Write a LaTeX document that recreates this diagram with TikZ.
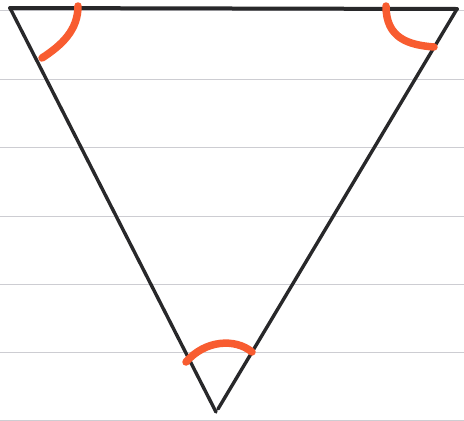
\documentclass[tikz,border=0pt]{standalone}
\definecolor{rule}{RGB}{205,205,210}
\definecolor{ink}{RGB}{40,40,42}
\definecolor{mark}{RGB}{248,92,48}
\tikzset{
  ruling/.style={draw=rule, line width=1pt},
  edge/.style={draw=ink, line width=3.4pt, line cap=round, line join=round},
  anglemark/.style={draw=mark, line width=7.5pt, line cap=round}
}
\begin{document}
\begin{tikzpicture}[x=1pt,y=-1pt]
\useasboundingbox (0,0) rectangle (464,421);
\fill[white] (0,0) rectangle (464,421);
% ruled paper lines
\foreach \yy in {10,79,147,216,284,352,420}
  \draw[ruling] (0,\yy) -- (464,\yy);
% vertices
\coordinate (A) at (10,8);
\coordinate (B) at (457,9);
\coordinate (C) at (216,412);
\coordinate (Cr) at (218,409);
% triangle
\draw[edge, line width=4pt] (A) -- (B);
\draw[edge] (A) -- (C);
\draw[edge] (B) -- (Cr);
% angle marks
\draw[anglemark] (78,6) .. controls (78,30) and (62,45) .. (42,58);
\draw[anglemark] (386,6) .. controls (386,38) and (408,45) .. (434,47);
\draw[anglemark] (186,362) .. controls (205,340) and (235,338) .. (252,352);
\end{tikzpicture}
\end{document}
